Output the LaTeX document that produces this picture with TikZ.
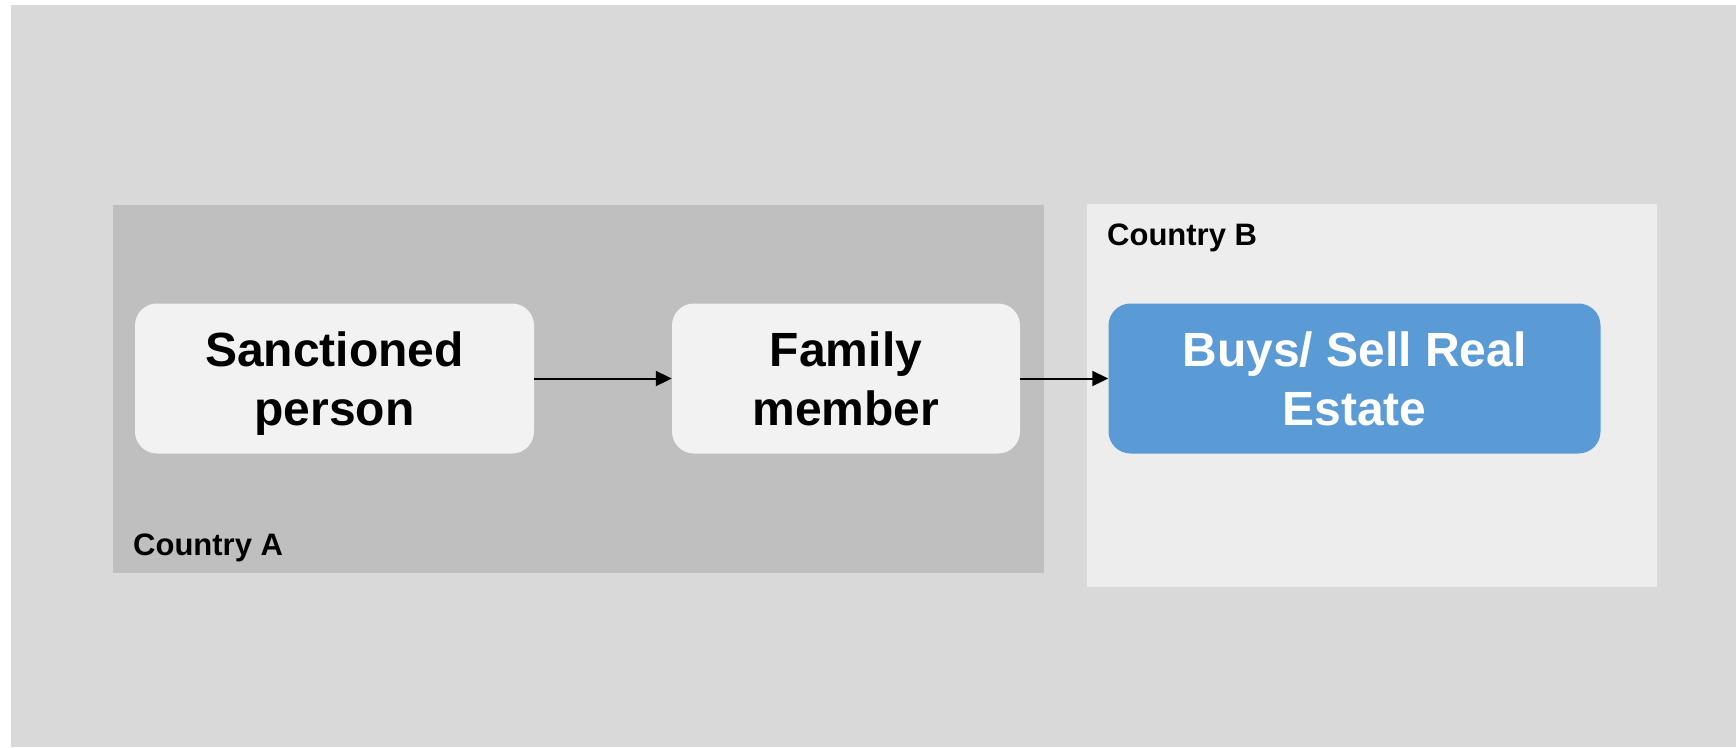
\documentclass[tikz,border=0pt]{standalone}
\usepackage{fontspec}
\setmainfont{Liberation Sans}
\usetikzlibrary{arrows.meta}
\definecolor{canvas}{HTML}{D9D9D9}
\definecolor{regionA}{HTML}{BFBFBF}
\definecolor{regionB}{HTML}{EDEDED}
\definecolor{boxgray}{HTML}{F2F2F2}
\definecolor{boxblue}{HTML}{5B9BD5}
\tikzset{
  region/.style={draw=none, inner sep=0pt},
  regionlabel/.style={anchor=base west, inner sep=0pt,
    font=\fontsize{31}{37}\selectfont\bfseries},
  actor/.style={draw=none, rounded corners=22pt, inner sep=0pt,
    minimum height=150pt, align=center, text depth=0pt,
    font=\fontsize{48}{59}\selectfont\bfseries},
  flow/.style={draw=black, line width=2pt,
    -{Triangle[length=16pt, width=15pt]}}
}
\begin{document}
\begin{tikzpicture}[x=1pt, y=-1pt]
  \useasboundingbox (0,0) rectangle (1736,747);
  \fill[white] (0,0) rectangle (1736,747);
  \fill[canvas] (11,5) rectangle (1736,747);

  % the two jurisdictions
  \fill[regionA] (113,205) rectangle (1044,573);
  \fill[regionB] (1087,204) rectangle (1657,587);
  \node[regionlabel] (labelA) at (133,555) {Country A};
  \node[regionlabel] (labelB) at (1107,245) {Country B};

  % parties and the transaction
  \node[actor, fill=boxgray, minimum width=399pt] (sp) at (334.5,378.5)
    {Sanctioned\\person};
  \node[actor, fill=boxgray, minimum width=348pt] (fm) at (846,378.5)
    {Family\\member};
  \node[actor, fill=boxblue, text=white, minimum width=492pt] (re) at (1354.5,378.5)
    {Buys/ Sell Real\\Estate};

  \draw[flow] (sp.east) -- (fm.west);
  \draw[flow] (fm.east) -- (re.west);
\end{tikzpicture}
\end{document}
